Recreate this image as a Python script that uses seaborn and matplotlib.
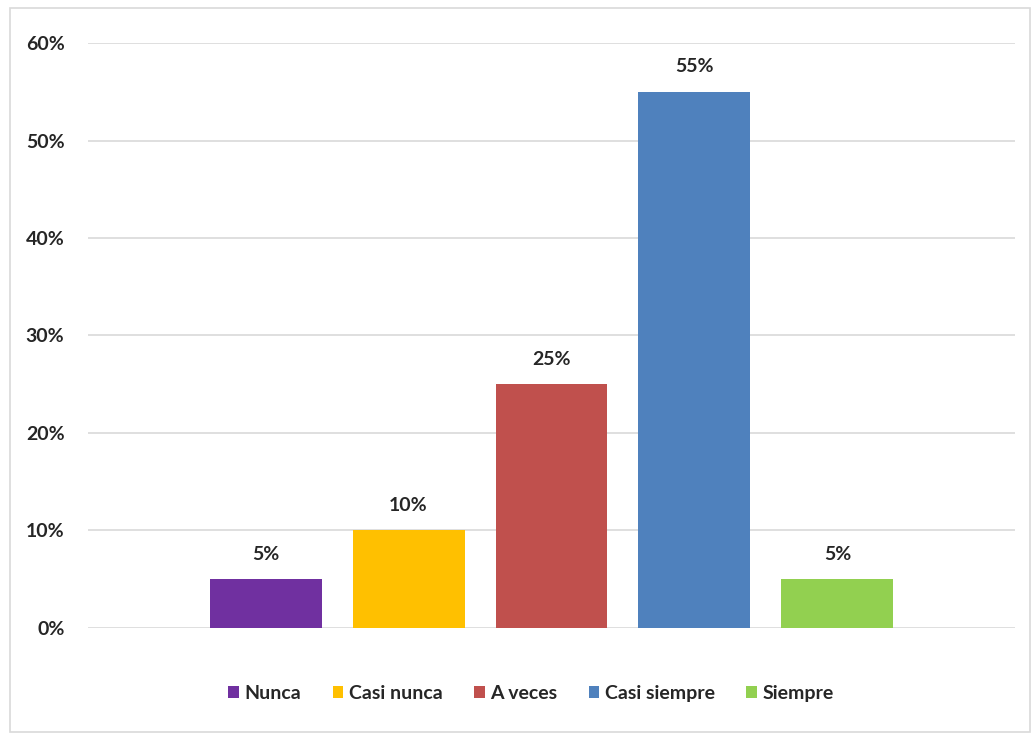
import pandas as pd
import numpy as np
import matplotlib.pyplot as plt
import seaborn as sns
from matplotlib.patches import Rectangle
from matplotlib.ticker import PercentFormatter

# ================= 数据 =================
categorias = ['Nunca', 'Casi nunca', 'A veces', 'Casi siempre', 'Siempre']
valores = [0.05, 0.10, 0.25, 0.55, 0.05]
colores = ['#7030A0', '#FFC000', '#C0504D', '#4F81BD', '#92D050']
y_ticks = [0, 0.1, 0.2, 0.3, 0.4, 0.5, 0.6]

df = pd.DataFrame({'grupo': [''] * len(categorias), 'respuesta': categorias, 'valor': valores})

# ================= 风格 =================
sns.set_style('white')
plt.rcParams['font.family'] = ['Lato', 'DejaVu Sans']
plt.rcParams['font.weight'] = 'bold'

fig = plt.figure(figsize=(10.34, 7.33), dpi=100)
ax = fig.add_axes([0.0851, 0.1433, 0.8965, 0.798])

sns.barplot(data=df, x='grupo', y='valor', hue='respuesta', hue_order=categorias,
            palette=colores, width=0.771, gap=0.217, saturation=1, linewidth=0,
            ax=ax, legend=True)

# 数据标签
for cont in ax.containers:
    ax.bar_label(cont, labels=[f'{v*100:.0f}%' for v in cont.datavalues],
                 padding=12, fontsize=14, fontweight='bold', color='#262626')

ax.set_xlim(-0.5, 0.5)
ax.set_ylim(0, 0.6)
ax.set_yticks(y_ticks)
ax.yaxis.set_major_formatter(PercentFormatter(1.0, decimals=0))
ax.tick_params(axis='y', length=0, labelsize=14, labelcolor='#262626', pad=17)
ax.set_xticks([])
ax.set_xlabel('')
ax.set_ylabel('')
ax.grid(axis='y', color='#D9D9D9', linewidth=1.2)
ax.set_axisbelow(True)
for s in ax.spines.values():
    s.set_visible(False)

ax.legend(loc='upper center', bbox_to_anchor=(0.478, -0.067), ncol=5, frameon=False,
          handlelength=0.55, handleheight=0.55, handletextpad=0.3, columnspacing=1.6,
          prop={'size': 14, 'weight': 'bold'}, labelcolor='#262626')

# 图表外框
fig.patches.append(Rectangle((10 / 1034, 0.002), 1020 / 1034, 1 - 8 / 733 - 0.002,
                             transform=fig.transFigure, fill=False,
                             edgecolor='#D9D9D9', linewidth=1.2))

fig.savefig('out.png', dpi=100)
